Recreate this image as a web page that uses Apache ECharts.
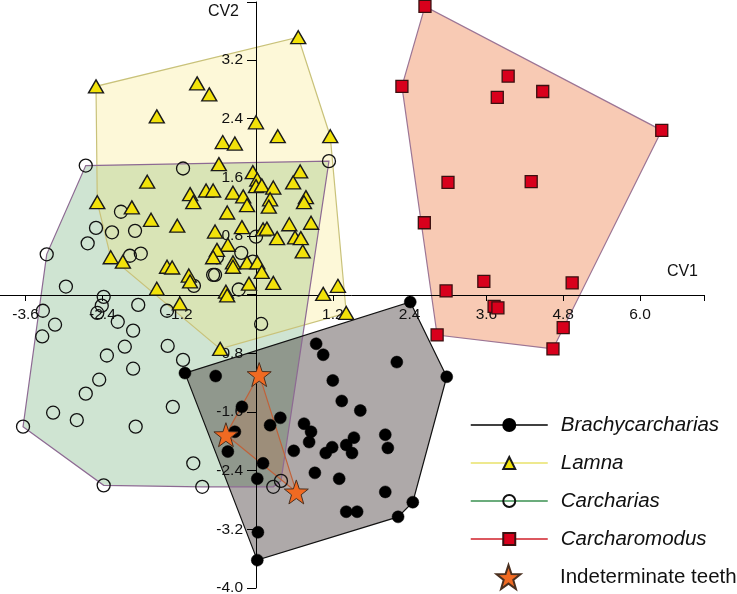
<!DOCTYPE html>
<html>
<head>
<meta charset="utf-8">
<script src="https://cdn.jsdelivr.net/npm/echarts@6/dist/echarts.min.js"></script>
<style>
html,body{margin:0;padding:0;background:#fff;}
#chart{width:737px;height:594px;}
</style>
</head>
<body>
<div id="chart"></div>
<script>
const xTickLabels = ['-3.6', '-2.4', '-1.2', '1.2', '2.4', '3.6', '4.8', '6.0'];
const yTickLabels = ['-4.0', '-3.2', '-2.4', '-1.6', '-0.8', '0.8', '1.6', '2.4', '3.2'];

const brachycarcharias = [[2.41,-0.10],[0.94,-0.67],[1.05,-0.82],[2.20,-0.92],[2.98,-1.12],[1.20,-1.17],[1.34,-1.45],[1.63,-1.58],[0.38,-1.68],[0.22,-1.78],[0.75,-1.76],[0.86,-1.87],[0.83,-2.01],[2.02,-1.91],[2.06,-2.09],[1.53,-1.95],[1.41,-2.05],[1.50,-2.16],[1.19,-2.08],[1.09,-2.16],[0.59,-2.13],[0.11,-2.30],[0.92,-2.43],[1.30,-2.51],[2.02,-2.69],[2.45,-2.83],[2.22,-3.03],[1.41,-2.96],[1.58,-2.96],[-1.11,-1.07],[-0.63,-1.11],[-0.22,-1.53],[-0.33,-1.87],[-0.44,-2.14],[0.02,-2.51],[0.03,-3.24],[0.02,-3.62]];

const lamna = [[0.66,3.51],[-2.50,2.84],[-0.92,2.88],[-0.73,2.73],[-1.55,2.43],[0.00,2.35],[0.34,2.16],[1.16,2.16],[-0.52,2.08],[-0.33,2.06],[-0.58,1.78],[-0.05,1.67],[0.02,1.57],[0.00,1.48],[0.09,1.49],[0.69,1.68],[-1.70,1.54],[-1.03,1.37],[-0.78,1.42],[-0.67,1.42],[-0.36,1.39],[-0.20,1.34],[0.27,1.46],[0.58,1.53],[0.78,1.33],[0.75,1.26],[-0.98,1.26],[-0.14,1.22],[0.22,1.30],[0.20,1.20],[-2.48,1.26],[-1.94,1.19],[-0.45,1.12],[-1.64,1.02],[-1.23,0.94],[-0.64,0.86],[-0.22,0.92],[0.11,0.89],[0.17,0.90],[0.52,0.96],[0.86,0.98],[0.61,0.78],[0.70,0.77],[0.33,0.77],[0.73,0.59],[-0.44,0.68],[-0.61,0.61],[-0.67,0.51],[-2.27,0.51],[-2.08,0.45],[-1.39,0.38],[-1.31,0.37],[-1.05,0.26],[-1.03,0.18],[-0.36,0.44],[-0.36,0.38],[-0.14,0.44],[0.02,0.44],[0.09,0.31],[-0.11,0.15],[0.27,0.16],[-1.55,0.08],[-0.47,0.04],[-0.45,-0.01],[1.28,0.12],[1.05,0.01],[-1.19,-0.12],[1.41,-0.25],[-0.56,-0.74]];

const carcharias = [[-2.66,1.76],[-1.14,1.72],[1.14,1.82],[-2.11,1.13],[-2.50,0.91],[-2.25,0.85],[-1.89,0.87],[-2.63,0.70],[-3.27,0.55],[-1.97,0.53],[-1.80,0.56],[-2.97,0.11],[-2.38,-0.03],[-0.97,0.12],[-0.67,0.27],[-0.64,0.27],[-0.27,0.07],[-0.23,0.57],[0.00,0.79],[-0.05,0.45],[-0.61,0.51],[-3.33,-0.22],[-2.41,-0.15],[-2.48,-0.25],[-1.84,-0.14],[-1.39,-0.22],[-3.14,-0.41],[-2.16,-0.37],[-1.92,-0.49],[-3.34,-0.57],[-2.05,-0.71],[-1.38,-0.70],[-2.33,-0.83],[-1.14,-0.89],[-1.92,-1.01],[-2.45,-1.16],[-2.66,-1.35],[-1.30,-1.53],[-3.17,-1.61],[-2.80,-1.71],[-1.88,-1.80],[-3.64,-1.80],[-0.98,-2.30],[-2.38,-2.60],[-0.84,-2.62],[0.08,-0.40],[0.39,-2.54],[0.27,-2.62]];

const carcharomodus = [[2.64,3.93],[2.28,2.84],[3.94,2.98],[3.77,2.69],[4.48,2.77],[6.34,2.24],[3.00,1.53],[4.30,1.54],[2.63,0.98],[3.56,0.18],[4.94,0.16],[2.97,0.05],[3.72,-0.16],[3.78,-0.18],[4.80,-0.45],[2.83,-0.55],[4.64,-0.74]];

const indeterminate = [[0.05,-1.09],[-0.47,-1.91],[0.63,-2.69]];

const FONT = '"Liberation Sans", Arial, sans-serif';
const STAR = 'path://M0,-10L2.35,-3.24L9.51,-3.09L3.8,1.24L5.88,8.09L0,4L-5.88,8.09L-3.8,1.24L-9.51,-3.09L-2.35,-3.24Z';

// axis ranges and layout
const X_MIN = -4.8, X_MAX = 7, Y_MIN = -4, Y_MAX = 3.99;
const GRID = { left: -51.2, top: 2, width: 755.2, height: 586 };
// offsets that bring each axis to the other axis's zero
const X_AXIS_OFFSET = -GRID.height * (0 - Y_MIN) / (4 - Y_MIN);
const Y_AXIS_OFFSET = -GRID.width * (0 - X_MIN) / (X_MAX - X_MIN);

function convexHull(pts) {
  const p = pts.slice().sort((a, b) => a[0] - b[0] || a[1] - b[1]);
  const cross = (o, a, b) => (a[0]-o[0])*(b[1]-o[1]) - (a[1]-o[1])*(b[0]-o[0]);
  const lower = [];
  for (const q of p) { while (lower.length >= 2 && cross(lower[lower.length-2], lower[lower.length-1], q) <= 0) lower.pop(); lower.push(q); }
  const upper = [];
  for (let i = p.length - 1; i >= 0; i--) { const q = p[i]; while (upper.length >= 2 && cross(upper[upper.length-2], upper[upper.length-1], q) <= 0) upper.pop(); upper.push(q); }
  upper.pop(); lower.pop();
  return lower.concat(upper);
}

function hullSeries(points, fill, stroke, z) {
  const hull = convexHull(points);
  return {
    type: 'custom', coordinateSystem: 'cartesian2d', silent: true, z: z, clip: false,
    data: [[0, 0]],
    renderItem: function (params, api) {
      return {
        type: 'polygon',
        shape: { points: hull.map(q => api.coord(q)) },
        style: { fill: fill, stroke: stroke, lineWidth: 1.2 }
      };
    }
  };
}

function labelFmt(list) {
  return function (v) {
    const s = Number(v).toFixed(1);
    return list.indexOf(s) >= 0 ? s : '';
  };
}

const chart = echarts.init(document.getElementById('chart'), null, { renderer: 'canvas' });

const option = {
  animation: false,
  backgroundColor: '#fff',
  textStyle: { fontFamily: FONT },
  grid: Object.assign({ containLabel: false, outerBoundsMode: 'none' }, GRID),
  xAxis: {
    type: 'value', min: X_MIN, max: X_MAX, interval: 1.2, z: 2,
    position: 'bottom', offset: X_AXIS_OFFSET,
    name: 'CV1', nameLocation: 'end', nameGap: -6,
    nameTextStyle: { fontSize: 16, color: '#111', fontFamily: FONT, align: 'right', verticalAlign: 'bottom', padding: [0, 0, 15, 0] },
    axisLine: { onZero: false, lineStyle: { color: '#000', width: 1 } },
    axisTick: { show: true, length: 6, lineStyle: { color: '#000' } },
    axisLabel: { formatter: labelFmt(xTickLabels), margin: 12, fontSize: 15.5, color: '#111', fontFamily: FONT, showMinLabel: true, showMaxLabel: true, hideOverlap: false },
    splitLine: { show: false }
  },
  yAxis: {
    type: 'value', min: Y_MIN, max: Y_MAX, interval: 0.8, z: 2,
    position: 'left', offset: Y_AXIS_OFFSET,
    name: 'CV2', nameLocation: 'end', nameGap: -2,
    nameTextStyle: { fontSize: 16, color: '#111', fontFamily: FONT, align: 'right', verticalAlign: 'top', padding: [0, 17, 0, 0] },
    axisLine: { onZero: false, lineStyle: { color: '#000', width: 1 } },
    axisTick: { show: true, length: 9, lineStyle: { color: '#000' } },
    axisLabel: { formatter: labelFmt(yTickLabels), margin: 13, fontSize: 15.5, color: '#111', fontFamily: FONT, showMinLabel: true, showMaxLabel: true, hideOverlap: false },
    splitLine: { show: false }
  },
  legend: [
    {
      orient: 'vertical', left: 465, top: 409, itemWidth: 77, itemHeight: 15, itemGap: 16,
      selectedMode: false,
      textStyle: { fontSize: 20.5, lineHeight: 22, color: '#111', fontFamily: FONT, padding: [0, 0, 0, 8] },
      lineStyle: { opacity: 1, width: 1.5 },
      data: [
        { name: 'Brachycarcharias', textStyle: { fontStyle: 'italic' } },
        { name: 'Lamna', textStyle: { fontStyle: 'italic' } },
        { name: 'Carcharias', textStyle: { fontStyle: 'italic' } },
        { name: 'Carcharomodus', textStyle: { fontStyle: 'italic' } }
      ]
    },
    {
      orient: 'vertical', left: 465, top: 559, itemWidth: 77, itemHeight: 30,
      selectedMode: false,
      textStyle: { fontSize: 20.5, lineHeight: 22, color: '#111', fontFamily: FONT, padding: [0, 0, 0, 8] },
      lineStyle: { opacity: 0 },
      data: [{ name: 'Indeterminate teeth' }]
    }
  ],
  series: [
    hullSeries(carcharias, 'rgba(15,120,30,0.2)', 'none', 1),
    hullSeries(lamna, 'rgba(247,227,99,0.25)', 'none', 1),
    hullSeries(brachycarcharias, 'rgba(42,29,29,0.38)', 'none', 1),
    hullSeries(carcharomodus, '#f8cab4', 'none', 1),
    hullSeries(indeterminate, 'rgba(215,100,40,0.18)', 'none', 1),
    hullSeries(lamna, 'none', '#c9c27a', 2),
    hullSeries(carcharias, 'none', '#8d6a93', 2),
    hullSeries(brachycarcharias, 'none', '#111111', 2),
    hullSeries(carcharomodus, 'none', '#9c7595', 2),
    hullSeries(indeterminate, 'none', '#c0623a', 2),
    {
      name: 'Carcharias', type: 'line', data: carcharias, z: 3,
      symbol: 'circle', symbolSize: 13, showSymbol: true,
      lineStyle: { color: '#3a9050', width: 1.5, opacity: 0 },
      itemStyle: { color: 'rgba(255,255,255,0)', borderColor: '#111', borderWidth: 1.3 },
      emphasis: { disabled: true }
    },
    {
      name: 'Brachycarcharias', type: 'line', data: brachycarcharias, z: 4,
      symbol: 'circle', symbolSize: 12, showSymbol: true,
      lineStyle: { color: '#000', width: 1.5, opacity: 0 },
      itemStyle: { color: '#000', borderColor: '#000', borderWidth: 0.5 },
      emphasis: { disabled: true }
    },
    {
      name: 'Lamna', type: 'line', data: lamna, z: 5,
      symbol: 'triangle', symbolSize: [15, 13], showSymbol: true,
      lineStyle: { color: '#e8e26a', width: 1.5, opacity: 0 },
      itemStyle: { color: '#f2e20a', borderColor: '#1a1a1a', borderWidth: 1.4 },
      emphasis: { disabled: true }
    },
    {
      name: 'Carcharomodus', type: 'line', data: carcharomodus, z: 5,
      symbol: 'rect', symbolSize: 12, showSymbol: true,
      lineStyle: { color: '#d0202a', width: 1.5, opacity: 0 },
      itemStyle: { color: '#d8001c', borderColor: '#3a1010', borderWidth: 1.3 },
      emphasis: { disabled: true }
    },
    {
      name: 'Indeterminate teeth', type: 'line', data: indeterminate, z: 6,
      symbol: STAR, symbolSize: 24, showSymbol: true,
      lineStyle: { color: '#c0623a', width: 0, opacity: 0 },
      itemStyle: { color: '#f06a22', borderColor: '#4a3020', borderWidth: 1 },
      emphasis: { disabled: true }
    }
  ]
};

chart.setOption(option);
</script>
</body>
</html>
